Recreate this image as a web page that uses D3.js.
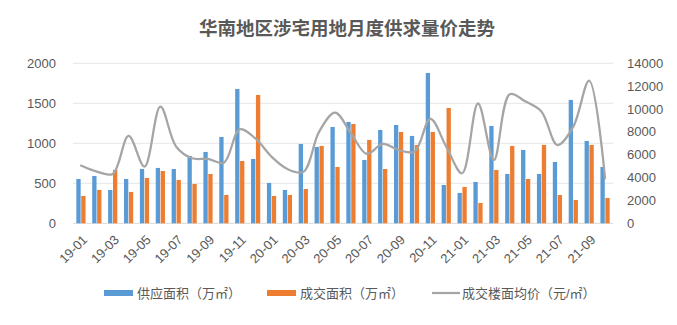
<!DOCTYPE html>
<html><head><meta charset="utf-8">
<script src="https://cdn.jsdelivr.net/npm/d3@7"></script>
<style>
body{margin:0;background:#fff;}
text{font-family:"Liberation Sans","Noto Sans CJK SC",sans-serif;}
</style></head><body>
<svg id="c" width="677" height="325"></svg>
<script>
const months = ["19-01","19-02","19-03","19-04","19-05","19-06","19-07","19-08","19-09","19-10","19-11","19-12",
"20-01","20-02","20-03","20-04","20-05","20-06","20-07","20-08","20-09","20-10","20-11","20-12",
"21-01","21-02","21-03","21-04","21-05","21-06","21-07","21-08","21-09","21-10"];
const supply = [554,592,417,554,679,692,679,842,892,1079,1679,804,
504,417,992,954,1204,1267,792,1167,1229,1092,1879,479,
379,517,1217,617,917,617,767,1542,1029,704];
const deal = [342,417,667,392,567,654,542,492,617,354,779,1604,
342,354,429,967,704,1242,1042,679,1142,979,1142,1442,
454,254,667,967,554,979,354,292,979,317];
const price = [5050,4520,4320,7650,4960,10200,6700,5690,5630,5310,8230,7400,
5830,4750,4500,8020,9680,7880,6070,6940,6420,6270,9130,6710,
4380,10500,5540,11290,10650,9770,6850,8460,12480,3940];
const leftTicks = [0,500,1000,1500,2000];
const rightTicks = [0,2000,4000,6000,8000,10000,12000,14000];
const title = "华南地区涉宅用地月度供求量价走势";
const legendLabels = ["供应面积（万㎡）","成交面积（万㎡）","成交楼面均价（元/㎡）"];

const svg = d3.select("#c");
const L = 73, R = 613, T = 63.3, B = 223.3;
const x = d3.scaleBand().domain(months).range([L, R]);
const yL = d3.scaleLinear().domain([0,2000]).range([B,T]);
const yR = d3.scaleLinear().domain([0,14000]).range([B,T]);
const blue = "#5b9bd5", orange = "#ed7d31", gray = "#a5a5a5", txt = "#595959";

svg.append("text").attr("x",347).attr("y",35).attr("text-anchor","middle")
  .attr("font-size",18.5).attr("font-weight","bold").attr("fill","#595959")
  .style("font-family","'Noto Sans CJK SC',sans-serif").text(title);

svg.append("g").selectAll("line").data(leftTicks).join("line")
  .attr("x1",L).attr("x2",R).attr("y1",d=>yL(d)).attr("y2",d=>yL(d))
  .attr("stroke",d=>d===0?"#d9d9d9":"#e6e6e6").attr("stroke-width",1);

svg.append("g").selectAll("text").data(leftTicks).join("text")
  .attr("x",56).attr("y",d=>yL(d)).attr("dy","0.35em").attr("text-anchor","end")
  .attr("font-size",13).attr("fill",txt).text(d=>d);
svg.append("g").selectAll("text").data(rightTicks).join("text")
  .attr("x",627).attr("y",d=>yR(d)).attr("dy","0.35em").attr("text-anchor","start")
  .attr("font-size",13).attr("fill",txt).text(d=>d);

const bw = 4.3, bw0 = x.bandwidth();
svg.append("g").selectAll("rect").data(months).join("rect")
  .attr("x",(d)=>x(d)+bw0/2-bw-0.3).attr("width",bw)
  .attr("y",(d,i)=>yL(supply[i])).attr("height",(d,i)=>B-yL(supply[i])).attr("fill",blue);
svg.append("g").selectAll("rect").data(months).join("rect")
  .attr("x",(d)=>x(d)+bw0/2+0.3).attr("width",bw)
  .attr("y",(d,i)=>yL(deal[i])).attr("height",(d,i)=>B-yL(deal[i])).attr("fill",orange);

const line = d3.line().x((d,i)=>x(months[i])+bw0/2).y(d=>yR(d)).curve(d3.curveCatmullRom.alpha(0.5));
svg.append("path").datum(price).attr("d",line).attr("fill","none")
  .attr("stroke",gray).attr("stroke-width",2.25).attr("stroke-linecap","round");

svg.append("g").selectAll("text").data(months.filter((d,i)=>i%2===0)).join("text")
  .attr("transform",d=>`translate(${x(d)+bw0/2+4},${B+14}) rotate(-45)`)
  .attr("text-anchor","end").attr("dy","0.35em")
  .attr("font-size",13).attr("fill",txt).text(d=>d);

const lg = svg.append("g").attr("font-size",13).attr("fill",txt);
lg.append("rect").attr("x",104).attr("y",290).attr("width",29).attr("height",6).attr("fill",blue);
lg.append("text").attr("x",137).attr("y",293).attr("dy","0.35em").attr("fill",txt).text(legendLabels[0]);
lg.append("rect").attr("x",267).attr("y",290).attr("width",29).attr("height",6).attr("fill",orange);
lg.append("text").attr("x",300).attr("y",293).attr("dy","0.35em").attr("fill",txt).text(legendLabels[1]);
lg.append("line").attr("x1",432).attr("x2",460).attr("y1",293).attr("y2",293).attr("stroke",gray).attr("stroke-width",2.25);
lg.append("text").attr("x",462).attr("y",293).attr("dy","0.35em").attr("fill",txt).text(legendLabels[2]);
</script></body></html>
